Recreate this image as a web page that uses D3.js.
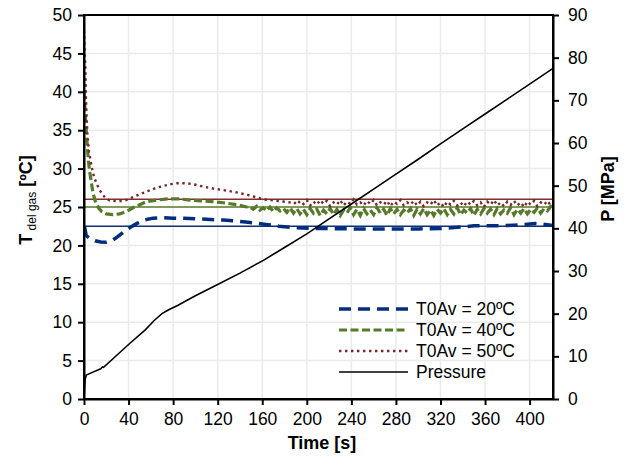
<!DOCTYPE html>
<html>
<head>
<meta charset="utf-8">
<script src="https://cdn.jsdelivr.net/npm/d3@7"></script>
<style>
  body { margin: 0; background: #fff; }
  svg text { font-family: "Liberation Sans", Arial, sans-serif; fill: #000; }
</style>
</head>
<body>
<div id="chart"></div>
<script>
(function () {
    // Gas temperature, T0Av = 20ºC  [time s, T ºC]
    const t20 = [
        [0.5, 22.4], [2, 21.3], [5, 20.9], [10, 20.6], [15, 20.45], [20, 20.4], [25, 20.6],
        [30, 21.1], [36, 21.8], [42, 22.4], [48, 22.9], [55, 23.35], [62, 23.55], [70, 23.6],
        [80, 23.55], [95, 23.5], [110, 23.4], [125, 23.3], [135, 23.2], [145, 23.05], [155, 22.9],
        [165, 22.7], [175, 22.5], [190, 22.3], [210, 22.2], [240, 22.15], [270, 22.15],
        [300, 22.15], [320, 22.2], [335, 22.35], [350, 22.55], [365, 22.55], [380, 22.6],
        [395, 22.7], [405, 22.85], [412, 22.75], [421, 22.6]
    ];

    // Gas temperature, T0Av = 40ºC
    const t40 = [
        [0, 40], [1, 37.5], [2, 35], [3, 32.8], [4, 31], [5, 29.7], [6.5, 28.3], [8, 26.9],
        [10, 25.8], [13, 24.9], [16, 24.4], [20, 24.1], [26, 24.0], [32, 24.1], [38, 24.4],
        [44, 24.9], [50, 25.3], [56, 25.7], [65, 25.9], [75, 26.05], [86, 26.05], [95, 25.9],
        [105, 25.8], [115, 25.7], [125, 25.55], [137, 25.3], [146, 25.0],
        [149, 25.0], [152, 24.7], [155, 25.1], [158, 24.6], [161, 24.9], [164, 24.5], [167, 25.0],
        [170, 24.4], [173, 24.9], [176, 24.5], [179, 24.8], [182, 24.3], [185, 24.9], [188, 24.2],
        [191, 24.8], [194, 24.1], [197, 24.7], [200, 24.0], [203, 24.8], [206, 24.2], [209, 24.7],
        [212, 23.9], [215, 24.6], [218, 24.1], [221, 24.8], [224, 24.0], [227, 24.7], [230, 23.9],
        [233, 24.6], [236, 24.2], [239, 24.9], [242, 24.0], [245, 24.7], [248, 23.9], [251, 24.8],
        [254, 24.1], [257, 24.6], [260, 24.0], [263, 24.9], [266, 24.2], [269, 24.7], [272, 23.9],
        [275, 24.8], [278, 24.1], [281, 24.7], [284, 24.0], [287, 24.6], [290, 24.2], [293, 24.8],
        [296, 23.9], [299, 24.7], [302, 24.1], [305, 24.8], [308, 24.0], [311, 24.6], [314, 23.9],
        [317, 24.7], [320, 24.2], [323, 24.8], [326, 24.0], [329, 24.7], [332, 24.1], [335, 24.9],
        [338, 24.0], [341, 24.6], [344, 24.2], [347, 24.8], [350, 23.9], [353, 24.7], [356, 24.1],
        [359, 24.8], [362, 24.2], [365, 24.7], [368, 24.0], [371, 24.8], [374, 24.1], [377, 24.6],
        [380, 24.2], [383, 24.9], [386, 24.0], [389, 24.7], [392, 24.2], [395, 24.8], [398, 24.1],
        [401, 24.7], [404, 24.3], [407, 24.9], [410, 24.2], [413, 24.8], [416, 24.5], [419, 25.1],
        [421, 25.0]
    ];

    // Gas temperature, T0Av = 50ºC
    const t50 = [
        [0, 48], [0.7, 45], [1.2, 43.3], [1.8, 39], [2.4, 36.5], [3, 34.6], [4.5, 32.2],
        [6.9, 30.2], [9, 28.9], [11.4, 28], [14, 27.2], [16, 26.8], [19, 26.2], [23, 25.85],
        [29, 25.75], [35, 25.8], [40, 26.0], [44, 26.3], [50, 26.65], [56, 27.0], [63, 27.4],
        [70, 27.7], [77, 27.95], [83, 28.1], [92, 28.1], [100, 27.9], [107, 27.65], [116, 27.4],
        [125, 27.2], [137, 26.9], [149, 26.5], [161, 26.0], [173, 25.8], [185, 25.6],
        [188, 25.7], [191, 25.3], [194, 25.8], [197, 25.4], [200, 25.9], [203, 25.2], [206, 25.7],
        [209, 25.3], [212, 25.9], [215, 25.4], [218, 25.8], [221, 25.1], [224, 25.6], [227, 25.3],
        [230, 25.9], [233, 25.2], [236, 25.7], [239, 25.4], [242, 26.0], [245, 25.3], [248, 25.6],
        [251, 25.2], [254, 25.8], [257, 25.4], [260, 25.9], [263, 25.2], [266, 25.6], [269, 25.3],
        [272, 25.8], [275, 25.1], [278, 25.7], [281, 25.4], [284, 25.9], [287, 25.2], [290, 25.6],
        [293, 25.3], [296, 25.8], [299, 25.2], [302, 25.7], [305, 25.1], [308, 25.6], [311, 25.3],
        [314, 25.9], [317, 25.2], [320, 25.6], [323, 25.0], [326, 25.7], [329, 25.3], [332, 25.8],
        [335, 25.2], [338, 25.6], [341, 25.1], [344, 25.7], [347, 25.3], [350, 25.8], [353, 25.2],
        [356, 25.6], [359, 25.0], [362, 25.7], [365, 25.3], [368, 25.9], [371, 25.2], [374, 25.6],
        [377, 25.1], [380, 25.7], [383, 25.3], [386, 25.8], [389, 25.2], [392, 25.6], [395, 25.0],
        [398, 25.7], [401, 25.3], [404, 25.8], [407, 25.1], [410, 25.6], [413, 25.3], [416, 25.8],
        [419, 25.2], [421, 25.4]
    ];

    // Pressure [time s, P MPa] (right axis)
    const pressure = [
        [0, 0], [1, 4.5], [2, 5.6], [8, 6.3], [15, 7.1], [16.5, 7.5], [17.5, 7.4], [25, 9.2],
        [41, 13.0], [55, 16.2], [63, 18.4], [70, 20.0], [76, 20.9], [84, 21.9], [100, 24.2],
        [116, 26.3], [140, 29.5], [161, 32.5], [180, 35.5], [200, 38.7], [220, 42.2], [240, 45.7],
        [260, 49.2], [280, 52.7], [300, 56.2], [320, 59.8], [340, 63.3], [360, 66.8],
        [380, 70.3], [400, 73.8], [421, 77.5]
    ];

    // Horizontal reference levels (initial gas temperature)
    const refLevels = [22.5, 25, 26];

    const xTicks = [0, 40, 80, 120, 160, 200, 240, 280, 320, 360, 400];
    const yTicks = [0, 5, 10, 15, 20, 25, 30, 35, 40, 45, 50];
    const pTicks = [0, 10, 20, 30, 40, 50, 60, 70, 80, 90];

    const legendLabels = ["T0Av = 20ºC", "T0Av = 40ºC", "T0Av = 50ºC", "Pressure"];

    const W = 624, H = 456;
    const m = { left: 84, right: 71, top: 15, bottom: 57 };
    const x0 = m.left, x1 = W - m.right, y0 = H - m.bottom, y1 = m.top;
    const FS = "17.5px";

    const x = d3.scaleLinear().domain([0, 421]).range([x0, x1]);
    const y = d3.scaleLinear().domain([0, 50]).range([y0, y1]);
    const yP = d3.scaleLinear().domain([0, 90]).range([y0, y1]);

    const svg = d3.select("#chart").append("svg")
        .attr("width", W).attr("height", H);

    svg.append("defs").append("clipPath").attr("id", "plot")
        .append("rect").attr("x", x0).attr("y", y1)
        .attr("width", x1 - x0).attr("height", y0 - y1);

    // grid
    const grid = svg.append("g").attr("stroke", "#ebebeb").attr("stroke-width", 1.5);
    grid.selectAll(".gx").data(xTicks.slice(1)).join("line")
        .attr("x1", d => x(d)).attr("x2", d => x(d)).attr("y1", y1).attr("y2", y0);
    grid.selectAll(".gy").data(yTicks.slice(1, -1)).join("line")
        .attr("x1", x0).attr("x2", x1).attr("y1", d => y(d)).attr("y2", d => y(d));

    const plot = svg.append("g").attr("clip-path", "url(#plot)");

    const refColors = ["#0b2f7a", "#5c7d2c", "#7f2f2f"];
    plot.selectAll(".ref").data(refLevels).join("line")
        .attr("x1", x0).attr("x2", x1)
        .attr("y1", d => y(d)).attr("y2", d => y(d))
        .attr("stroke", (d, i) => refColors[i]).attr("stroke-width", 1.6);

    const line = d3.line().x(d => x(d[0])).y(d => y(d[1]));
    const lineP = d3.line().x(d => x(d[0])).y(d => yP(d[1]));

    const styles = [
        { color: "#002e7d", width: 3.5, dash: "12,7" },
        { color: "#567a2a", width: 3.2, dash: "8,3.5" },
        { color: "#76272a", width: 2.4, dash: "2.4,3.6" }
    ];
    [t20, t40, t50].forEach((s, i) => {
        plot.append("path").datum(s)
            .attr("d", line)
            .attr("fill", "none")
            .attr("stroke", styles[i].color)
            .attr("stroke-width", styles[i].width)
            .attr("stroke-dasharray", styles[i].dash);
    });

    plot.append("path").datum(pressure)
        .attr("d", lineP)
        .attr("fill", "none")
        .attr("stroke", "#000")
        .attr("stroke-width", 1.6);

    // frame + axes
    svg.append("rect").attr("x", x0).attr("y", y1)
        .attr("width", x1 - x0).attr("height", y0 - y1)
        .attr("fill", "none").attr("stroke", "#000").attr("stroke-width", 2);

    const fmtAxis = g => {
        g.select(".domain").attr("stroke-width", 2);
        g.selectAll(".tick line").attr("stroke-width", 2);
        g.selectAll(".tick text").style("font-size", FS)
            .style("font-family", "'Liberation Sans', Arial, sans-serif");
    };

    svg.append("g").attr("transform", `translate(0,${y0})`)
        .call(d3.axisBottom(x).tickValues(xTicks).tickSize(6).tickPadding(8).tickSizeOuter(0))
        .call(fmtAxis);
    svg.append("g").attr("transform", `translate(${x0},0)`)
        .call(d3.axisLeft(y).tickValues(yTicks).tickSize(6).tickPadding(6).tickSizeOuter(0))
        .call(fmtAxis);
    svg.append("g").attr("transform", `translate(${x1},0)`)
        .call(d3.axisRight(yP).tickValues(pTicks).tickSize(6).tickPadding(9).tickSizeOuter(0))
        .call(fmtAxis);

    // axis titles
    svg.append("text").attr("x", 322).attr("y", 449)
        .attr("text-anchor", "middle").style("font-size", "18px").style("font-weight", "bold")
        .text("Time [s]");

    const tt = svg.append("text")
        .attr("transform", "translate(32,200) rotate(-90)")
        .attr("text-anchor", "middle").style("font-size", "18px").style("font-weight", "bold");
    tt.append("tspan").text("T");
    tt.append("tspan").attr("dy", 4).style("font-size", "12px").style("font-weight", "normal").text(" del gas");
    tt.append("tspan").attr("dy", -4).text(" [ºC]");

    svg.append("text")
        .attr("transform", "translate(614,189) rotate(-90)")
        .attr("text-anchor", "middle").style("font-size", "18px").style("font-weight", "bold")
        .text("P [MPa]");

    // legend
    const legStyles = styles.concat([{ color: "#000", width: 1.6, dash: null }]);
    const leg = svg.append("g");
    legendLabels.forEach((lab, i) => {
        const ly = 309 + i * 21;
        leg.append("line")
            .attr("x1", 339).attr("x2", 408).attr("y1", ly).attr("y2", ly)
            .attr("stroke", legStyles[i].color)
            .attr("stroke-width", legStyles[i].width)
            .attr("stroke-dasharray", legStyles[i].dash);
        leg.append("text").attr("x", 416).attr("y", ly + 6)
            .style("font-size", FS).text(lab);
    });
})();
</script>
</body>
</html>
